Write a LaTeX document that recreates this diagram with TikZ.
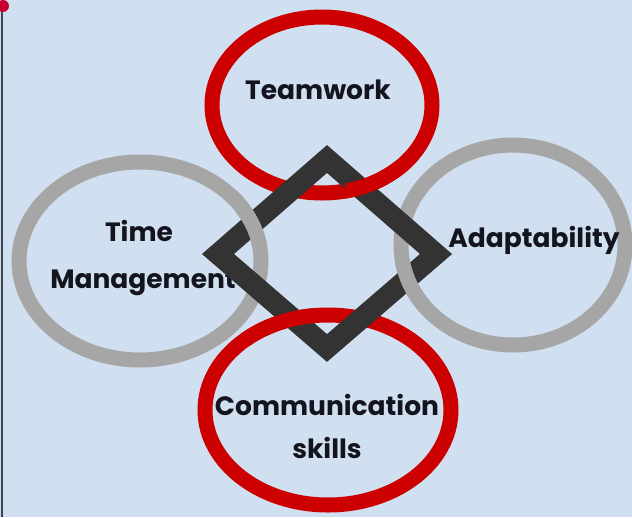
\documentclass[tikz,border=0pt]{standalone}
\usepackage{fontspec}
\setmainfont{Poppins}
\definecolor{bgblue}{RGB}{208,224,240}
\definecolor{ringred}{RGB}{204,0,0}
\definecolor{ringgrey}{RGB}{166,166,166}
\definecolor{diadark}{RGB}{51,51,51}
\definecolor{txtdark}{RGB}{20,20,30}
\definecolor{dotred}{RGB}{200,0,50}
\definecolor{edgeline}{RGB}{60,70,80}
\begin{document}
\begin{tikzpicture}[x=1pt,y=-1pt,
  redring/.style={draw=ringred,line width=15pt},
  greyring/.style={draw=ringgrey,line width=15pt},
  diastyle/.style={draw=diadark,line width=21pt,line join=miter},
  lbl/.style={font=\bfseries\fontsize{26.5}{30}\selectfont,text=txtdark,inner sep=0pt}]
\fill[bgblue] (0,0) rectangle (632,517);
\useasboundingbox (0,0) rectangle (632,517);
% slide edge
\coordinate (edgetop) at (1.5,10);
\coordinate (edgebot) at (1.5,517);
\draw[edgeline,line width=2pt] (edgetop) -- (edgebot);
\fill[dotred] (3,6) circle[radius=6pt];
% centres
\coordinate (ctop) at (322,105);
\coordinate (cbot) at (328,410);
\coordinate (cleft) at (140,261);
\coordinate (cright) at (513,245);
% rings
\draw[redring] (ctop) ellipse[x radius=110pt,y radius=88pt];
\draw[redring] (cbot) ellipse[x radius=123pt,y radius=95pt];
\draw[greyring] (cleft) ellipse[x radius=121pt,y radius=99pt];
\draw[greyring] (cright) ellipse[x radius=112pt,y radius=100pt];
% labels
\node[lbl] (teamwork) at (318,90) {Teamwork};
\node[lbl] (time) at (139,231) {Time};
\node[lbl] (mgmt) at (143,283) {Management};
\node[lbl] (adapt) at (534,240) {Adaptability};
\node[lbl] (comm) at (327,405) {Communication};
\node[lbl] (skills) at (327,448) {skills};
% diamond
\coordinate (dtop) at (327,159);
\coordinate (dright) at (436,254);
\coordinate (dbot) at (327,348);
\coordinate (dleft) at (218,254);
\draw[diastyle] (dtop) -- (dright) -- (dbot) -- (dleft) -- cycle;
% interlacing: rings over diamond
\begin{scope}
  \clip (345,160) rectangle (420,215);
  \draw[redring] (ctop) ellipse[x radius=110pt,y radius=88pt];
\end{scope}
\begin{scope}
  \clip (240,295) rectangle (315,345);
  \draw[redring] (cbot) ellipse[x radius=123pt,y radius=95pt];
\end{scope}
\begin{scope}
  \clip (235,180) rectangle (285,245);
  \draw[greyring] (cleft) ellipse[x radius=121pt,y radius=99pt];
\end{scope}
\begin{scope}
  \clip (375,262) rectangle (430,320);
  \draw[greyring] (cright) ellipse[x radius=112pt,y radius=100pt];
\end{scope}
\end{tikzpicture}
\end{document}
